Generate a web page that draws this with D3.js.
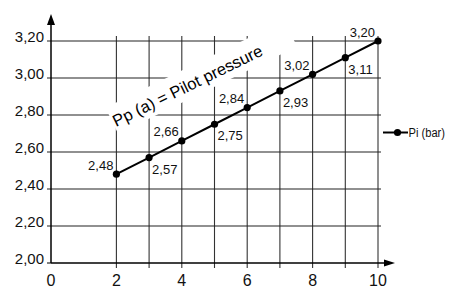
<!DOCTYPE html>
<html><head><meta charset="utf-8">
<script src="https://cdn.jsdelivr.net/npm/d3@7"></script>
<style>body{margin:0;background:#fff}svg{display:block;font-family:"Liberation Sans",Arial,sans-serif}</style>
</head><body><svg id="c" width="450" height="288"></svg>
<script>
const xValues = [2,3,4,5,6,7,8,9,10];
const piValues = [2.48,2.57,2.66,2.75,2.84,2.93,3.02,3.11,3.20];
const pointLabels = ["2,48","2,57","2,66","2,75","2,84","2,93","3,02","3,11","3,20"];
const yTicks = [2.0,2.2,2.4,2.6,2.8,3.0,3.2];
const yTickLabels = ["2,00","2,20","2,40","2,60","2,80","3,00","3,20"];
const xTicks = [0,2,4,6,8,10];
const xGrid = [2,3,4,5,6,7,8,9,10];
const seriesName = "Pi (bar)";
const titleText = "Pp (a) = Pilot pressure";

const svg = d3.select("#c");
const x = d3.scaleLinear().domain([0,10]).range([51,378]);
const y = d3.scaleLinear().domain([2.0,3.2]).range([263,41]);

// grid
const g = svg.append("g");
g.selectAll(".vg").data(xGrid).join("line")
  .attr("x1",d=>x(d)).attr("x2",d=>x(d)).attr("y1",36).attr("y2",268)
  .attr("stroke","#333").attr("stroke-width",1.1);
g.selectAll(".hg").data(yTicks.slice(1)).join("line")
  .attr("x1",47).attr("x2",381).attr("y1",d=>y(d)).attr("y2",d=>y(d))
  .attr("stroke","#222").attr("stroke-width",1.1);

// title with white background
const tg = svg.append("g").attr("transform","translate(116,127) rotate(-26)");
tg.append("rect").attr("x",-1).attr("y",-22).attr("width",199).attr("height",29).attr("fill","#fff");
tg.append("text").attr("x",0).attr("y",0)
  .attr("font-size",16.5).attr("fill","#000").text(titleText);

// axes
svg.append("line").attr("x1",x(0)).attr("x2",x(0)).attr("y1",22).attr("y2",y(2.0)).attr("stroke","#000").attr("stroke-width",1.5);
svg.append("path").attr("d",`M${x(0)-4},${25}L${x(0)},${14}L${x(0)+4},${25}Z`).attr("fill","#000");
svg.append("line").attr("x1",x(0)).attr("x2",386).attr("y1",y(2.0)).attr("y2",y(2.0)).attr("stroke","#000").attr("stroke-width",1.5);
svg.append("path").attr("d",`M384,${y(2)-3.5}L395,${y(2)}L384,${y(2)+3.5}Z`).attr("fill","#000");
svg.append("line").attr("x1",47).attr("x2",x(0)).attr("y1",y(2)).attr("y2",y(2)).attr("stroke","#000");

// tick labels
svg.selectAll(".yt").data(yTicks).join("text")
  .attr("x",44).attr("y",d=>y(d)+1).attr("text-anchor","end")
  .attr("font-size",15).attr("fill","#111").text((d,i)=>yTickLabels[i]);
svg.selectAll(".xt").data(xTicks).join("text")
  .attr("x",d=>x(d)).attr("y",286).attr("text-anchor","middle")
  .attr("font-size",16).attr("fill","#111").text(d=>d);

// line & points
const data = xValues.map((v,i)=>({x:v,y:piValues[i],l:pointLabels[i]}));
svg.append("path").datum(data).attr("fill","none").attr("stroke","#000").attr("stroke-width",2)
  .attr("d",d3.line().x(d=>x(d.x)).y(d=>y(d.y)));
svg.selectAll(".pt").data(data).join("circle").attr("cx",d=>x(d.x)).attr("cy",d=>y(d.y)).attr("r",3.6).attr("fill","#000");
svg.selectAll(".pl").data(data).join("text")
  .attr("x",(d,i)=> i%2===0 ? x(d.x)-3 : x(d.x)+3)
  .attr("y",(d,i)=> i%2===0 ? y(d.y)-4.5 : y(d.y)+16)
  .attr("text-anchor",(d,i)=> i%2===0 ? "end":"start")
  .attr("font-size",13).attr("fill","#111").text(d=>d.l);

// legend
svg.append("line").attr("x1",383).attr("x2",408).attr("y1",132.5).attr("y2",132.5).attr("stroke","#000").attr("stroke-width",2);
svg.append("circle").attr("cx",397.5).attr("cy",132.5).attr("r",3.6).attr("fill","#000");
svg.append("text").attr("x",408.5).attr("y",137).attr("font-size",12.5).attr("textLength",36.5).attr("lengthAdjust","spacingAndGlyphs")
  .attr("fill","#111").text(seriesName);
</script></body></html>
